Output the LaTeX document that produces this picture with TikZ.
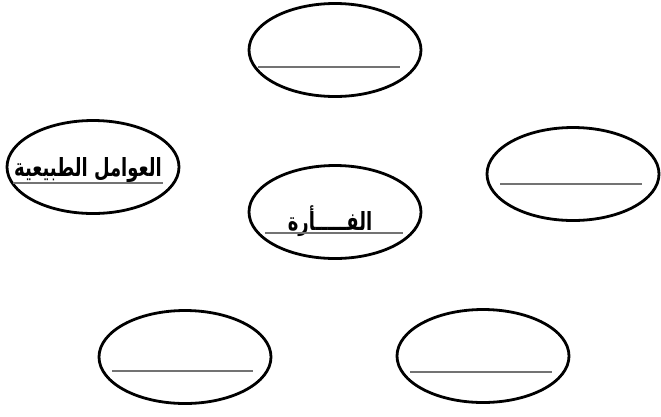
\documentclass[tikz,border=0pt]{standalone}
\usepackage{fontspec}
\newfontfamily\arabicfont[Script=Arabic,FakeStretch=0.72]{DejaVu Sans}
\TeXXeTstate=1
\usetikzlibrary{shapes.geometric,calc}

\begin{document}
\begin{tikzpicture}[x=1pt,y=-1pt,
    oval/.style={ellipse,draw,line width=2.8pt,minimum width=172pt,minimum height=93pt,inner sep=0pt},
    blank/.style={draw=black!55,line width=1.5pt},
    word/.style={font=\arabicfont\bfseries\fontsize{25}{30}\selectfont,inner sep=0pt}]
  \useasboundingbox (0,0) rectangle (661,416);
  % the six ovals
  \node[oval] (top) at (335,50) {};
  \node[oval] (left) at (93,167) {};
  \node[oval] (right) at (573,174) {};
  \node[oval] (mouse) at (335,212) {};
  \node[oval] (botleft) at (185,357) {};
  \node[oval] (botright) at (483,356) {};
  % filled-in words
  \node[word] (leftword) at ($(left)+(-5,3)$) {\beginR العوامل الطبيعية\endR};
  \node[word] (mouseword) at ($(mouse)+(-5,9)$) {\beginR الفـــــأرة\endR};
  \draw[blank] ($(left)+(-80,16)$) -- ($(left)+(70,16)$);
  \draw[blank] ($(mouse)+(-70,21)$) -- ($(mouse)+(68,21)$);
  % empty answer lines
  \foreach \n/\a/\b/\dy in {top/-77/65/17, right/-73/69/10, botleft/-73/68/14, botright/-73/69/16}
    \draw[blank] ($(\n)+(\a,\dy)$) -- ($(\n)+(\b,\dy)$);
\end{tikzpicture}
\end{document}
